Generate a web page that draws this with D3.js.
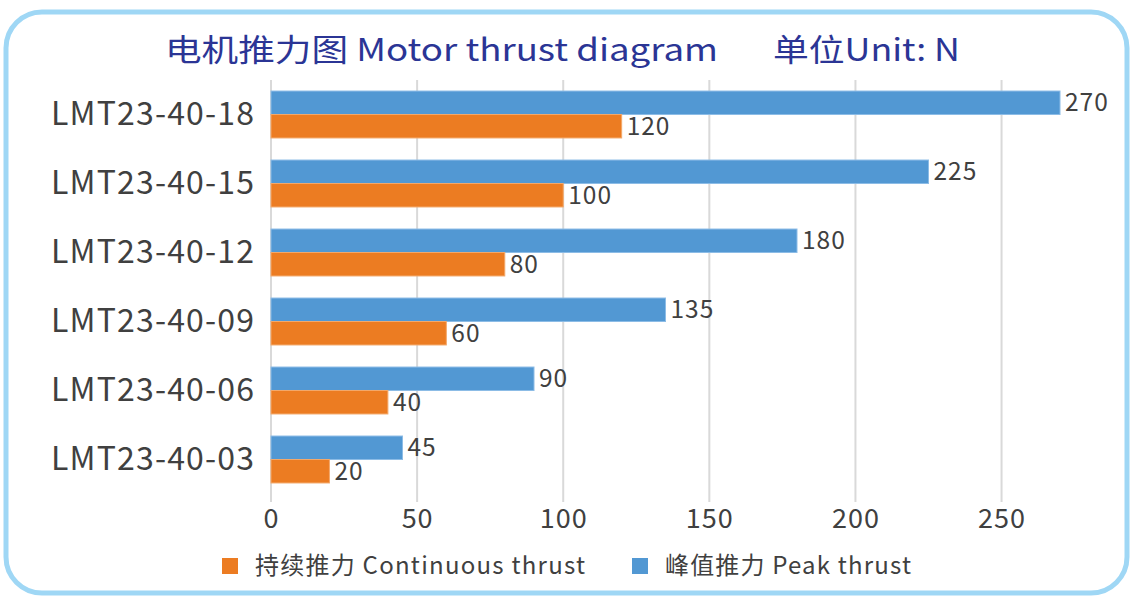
<!DOCTYPE html>
<html>
<head>
<meta charset="utf-8">
<script src="https://cdn.jsdelivr.net/npm/d3@7"></script>
<style>
  html, body { margin: 0; padding: 0; background: #fff; }
  text { font-family: "Noto Sans CJK SC", "Noto Sans", sans-serif; }
</style>
</head>
<body>
<div id="chart"></div>
<script>
const categories = ['LMT23-40-18', 'LMT23-40-15', 'LMT23-40-12', 'LMT23-40-09', 'LMT23-40-06', 'LMT23-40-03']
const peakThrust = [270, 225, 180, 135, 90, 45]
const continuousThrust = [120, 100, 80, 60, 40, 20]
const xTicks = [0, 50, 100, 150, 200, 250]
const seriesNames = ['持续推力 Continuous thrust', '峰值推力 Peak thrust']

const width = 1136
const height = 610
const blue = '#5298d3'
const orange = '#ec7c22'
const textColor = '#404040'

const svg = d3.select('#chart').append('svg').attr('width', width).attr('height', height)

// rounded frame
svg.append('rect')
  .attr('x', 6).attr('y', 12).attr('width', 1121).attr('height', 581)
  .attr('rx', 36).attr('ry', 36)
  .attr('fill', '#fff').attr('stroke', '#9fd7f5').attr('stroke-width', 5)

// title
svg.append('text')
  .attr('x', 165).attr('y', 61)
  .attr('font-size', 31).attr('fill', '#2b3595')
  .attr('textLength', 553).attr('lengthAdjust', 'spacingAndGlyphs')
  .text('电机推力图 Motor thrust diagram')
svg.append('text')
  .attr('x', 773).attr('y', 61)
  .attr('font-size', 31).attr('fill', '#2b3595')
  .attr('textLength', 187).attr('lengthAdjust', 'spacingAndGlyphs')
  .text('单位Unit: N')

const x = d3.scaleLinear().domain([0, 270]).range([271, 1060])
const y = d3.scaleBand().domain(categories).range([80, 494])
const sub = d3.scaleBand().domain(['peak', 'cont']).range([0, y.bandwidth()]).paddingOuter(0.47)

// gridlines
svg.append('g')
  .selectAll('line')
  .data(xTicks)
  .enter()
  .append('line')
  .attr('x1', (d) => x(d)).attr('x2', (d) => x(d))
  .attr('y1', 80).attr('y2', 502)
  .attr('stroke', '#d9d9d9').attr('stroke-width', 2)

// x axis labels
const xAxis = svg.append('g')
  .attr('transform', 'translate(0,508)')
  .call(d3.axisBottom(x).tickValues(xTicks).tickSize(0).tickPadding(0))
xAxis.select('.domain').remove()
xAxis.selectAll('text')
  .attr('font-size', 27).attr('fill', textColor).attr('dy', '0.75em')
  .style('font-family', '"Noto Sans CJK SC", "Noto Sans", sans-serif')
  .style('letter-spacing', '1px')

// y axis labels
const yAxis = svg.append('g')
  .attr('transform', 'translate(254,0)')
  .call(d3.axisLeft(y).tickSize(0).tickPadding(0))
yAxis.select('.domain').remove()
yAxis.selectAll('text')
  .attr('font-size', 32).attr('fill', textColor)
  .attr('textLength', 203).attr('lengthAdjust', 'spacing')
  .style('font-family', '"Noto Sans CJK SC", "Noto Sans", sans-serif')

const rows = categories.map((c, i) => ({ cat: c, peak: peakThrust[i], cont: continuousThrust[i] }))
const bars = []
rows.forEach((r) => {
  bars.push({ cat: r.cat, key: 'peak', value: r.peak, color: blue, stroke: '#8cbce6' })
  bars.push({ cat: r.cat, key: 'cont', value: r.cont, color: orange, stroke: '#f3a86a' })
})

svg.append('g')
  .selectAll('rect')
  .data(bars)
  .enter()
  .append('rect')
  .attr('x', x(0))
  .attr('y', (d) => y(d.cat) + sub(d.key))
  .attr('width', (d) => x(d.value) - x(0))
  .attr('height', sub.bandwidth())
  .attr('fill', (d) => d.color)
  .attr('stroke', (d) => d.stroke)
  .attr('stroke-width', 1)

svg.append('g')
  .selectAll('text')
  .data(bars)
  .enter()
  .append('text')
  .attr('x', (d) => x(d.value) + 5)
  .attr('y', (d) => y(d.cat) + sub(d.key) + sub.bandwidth() / 2)
  .attr('dy', '0.35em')
  .attr('font-size', 24.5).attr('fill', textColor)
  .style('letter-spacing', '1px')
  .text((d) => d.value)

// legend
const legend = [
  { name: seriesNames[0], color: orange, x: 222, len: 330 },
  { name: seriesNames[1], color: blue, x: 632, len: 246 }
]
const lg = svg.append('g').selectAll('g').data(legend).enter().append('g')
  .attr('transform', (d) => `translate(${d.x},558)`)
lg.append('rect').attr('width', 16).attr('height', 16).attr('fill', (d) => d.color)
lg.append('text')
  .attr('x', 33).attr('y', 8).attr('dy', '0.35em')
  .attr('font-size', 24).attr('fill', textColor)
  .attr('textLength', (d) => d.len).attr('lengthAdjust', 'spacing')
  .text((d) => d.name)
</script>
</body>
</html>
